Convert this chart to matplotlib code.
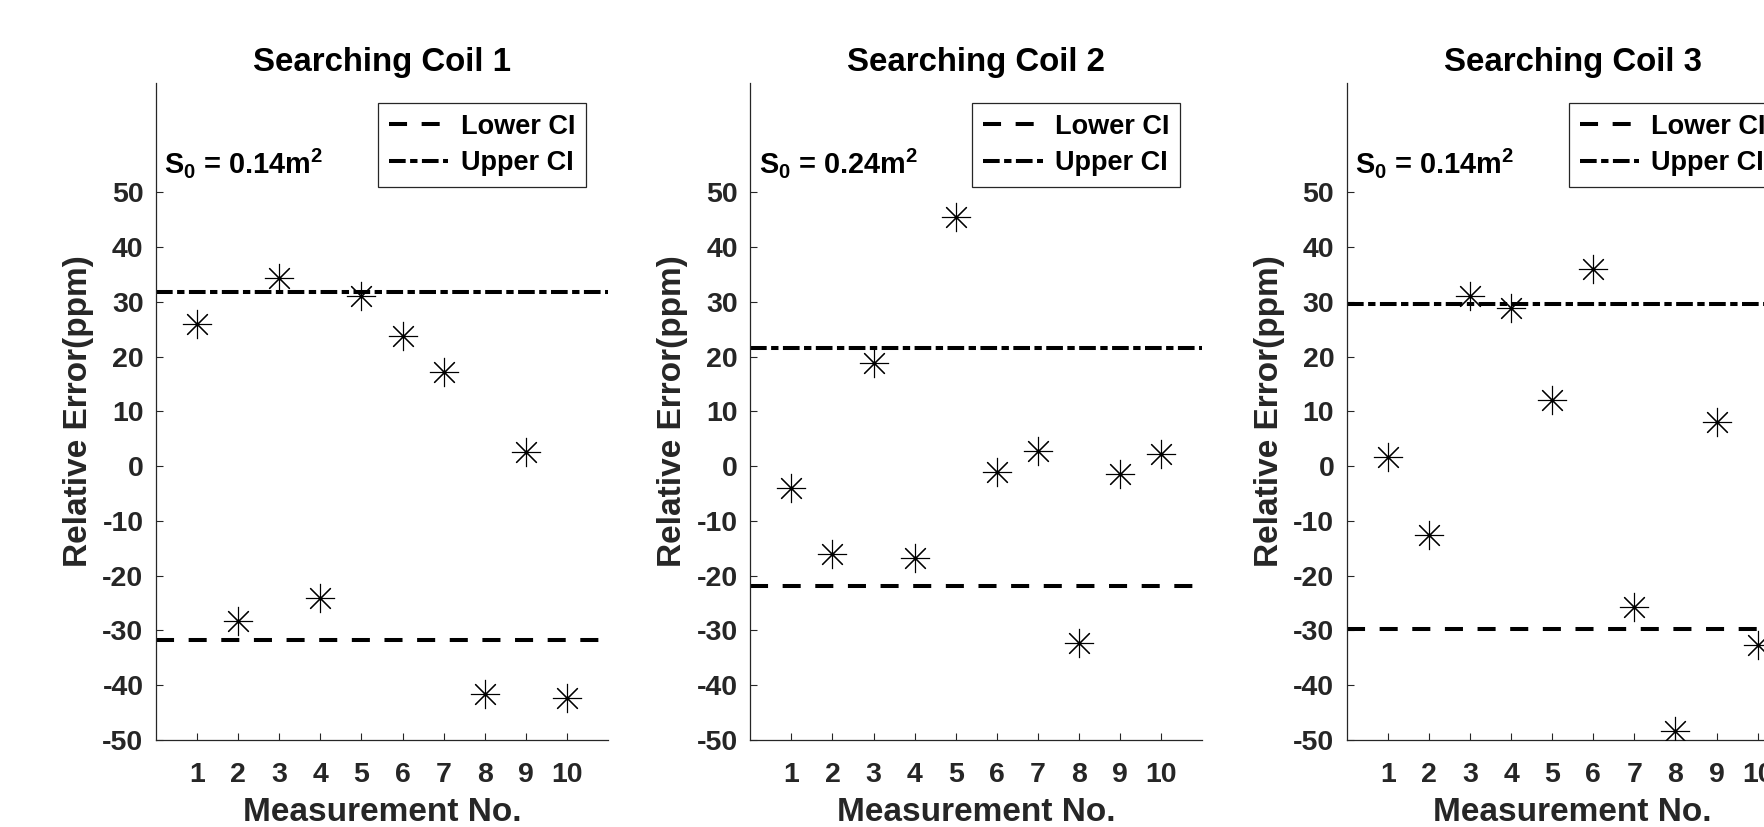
import matplotlib
matplotlib.use("Agg")
import matplotlib.pyplot as plt
import numpy as np

plt.rcParams['font.family'] = ['Liberation Sans', 'DejaVu Sans']
plt.rcParams['font.weight'] = 'bold'
plt.rcParams['axes.unicode_minus'] = False
plt.rcParams['mathtext.fontset'] = 'custom'
plt.rcParams['mathtext.rm'] = 'Liberation Sans:bold'
plt.rcParams['mathtext.bf'] = 'Liberation Sans:bold'
plt.rcParams['mathtext.it'] = 'Liberation Sans:bold'
plt.rcParams['lines.scale_dashes'] = False

# ---- data ----
measurements = [1, 2, 3, 4, 5, 6, 7, 8, 9, 10]
titles = ["Searching Coil 1", "Searching Coil 2", "Searching Coil 3"]
areas = ["0.14", "0.24", "0.14"]
coil1 = [26.0, -28.3, 34.4, -24.0, 31.0, 23.7, 17.2, -41.6, 2.6, -42.4]
coil2 = [-4.0, -16.1, 18.9, -16.8, 45.4, -1.1, 2.7, -32.2, -1.4, 2.3]
coil3 = [1.6, -12.5, 31.0, 28.8, 12.1, 35.9, -25.8, -48.3, 8.0, -32.7]
upper_ci = [31.7, 21.6, 29.6]
lower_ci = [-31.8, -21.8, -29.8]
yticks = [-50, -40, -30, -20, -10, 0, 10, 20, 30, 40, 50]
series = [coil1, coil2, coil3]

W, H = 1765, 827
fig = plt.figure(figsize=(W / 100, H / 100), dpi=100)

ax_color = '#262626'
lefts = [156, 750.3, 1346.7]
ax_w, ax_h = 452, 657.3
ax_bottom = 827 - 740

for i in range(3):
    ax = fig.add_axes([lefts[i] / W, ax_bottom / H, ax_w / W, ax_h / H])
    ax.plot(measurements, series[i], linestyle='none', marker=(8, 2, 0),
            markersize=21, markeredgewidth=0.8, color='black', zorder=3)
    ax.axhline(lower_ci[i], color='black', linewidth=2.9,
               dashes=(13, 10.5), label='Lower CI', zorder=2)
    ax.axhline(upper_ci[i], color='black', linewidth=2.9,
               dashes=(12, 3.2, 5.3, 3.2), label='Upper CI', zorder=2)

    ax.set_xlim(0, 11)
    ax.set_ylim(-50, 70)
    ax.set_xticks(measurements)
    ax.set_yticks(yticks)
    ax.set_xticklabels([str(m) for m in measurements])
    ax.set_yticklabels([str(t) for t in yticks])

    for s in ['top', 'right']:
        ax.spines[s].set_visible(False)
    for s in ['left', 'bottom']:
        ax.spines[s].set_color(ax_color)
        ax.spines[s].set_linewidth(0.9)

    ax.tick_params(axis='both', direction='in', length=5, width=0.8,
                   colors=ax_color, labelsize=20.5)
    ax.tick_params(axis='x', pad=16)
    ax.tick_params(axis='y', pad=9)
    for lab in ax.get_xticklabels() + ax.get_yticklabels():
        lab.set_fontweight('bold')

    ax.set_title(titles[i], fontsize=23.8, fontweight='bold', color='black', pad=8.6)
    ax.set_xlabel("Measurement No.", fontsize=24, fontweight='bold', color=ax_color, labelpad=6)
    ax.set_ylabel("Relative Error(ppm)", fontsize=24, fontweight='bold', color=ax_color, labelpad=6)

    ax.text(0.2, 53.5, r'S$_{\mathbf{0}}$ = ' + areas[i] + r'm$^{\mathbf{2}}$', fontsize=20.8,
            color='black', ha='left', va='baseline')

    leg = ax.legend(loc='upper right', bbox_to_anchor=(1 - 22 / ax_w, 1 - 20.3 / ax_h),
                    borderaxespad=0, fontsize=19.5, frameon=True, fancybox=False,
                    framealpha=1, edgecolor=ax_color, handlelength=2.2,
                    handletextpad=0.45, labelspacing=0.38, borderpad=0.4)
    leg.get_frame().set_linewidth(0.9)
    for t in leg.get_texts():
        t.set_fontweight('bold')
        t.set_color('black')

fig.savefig("out.png", dpi=100)
